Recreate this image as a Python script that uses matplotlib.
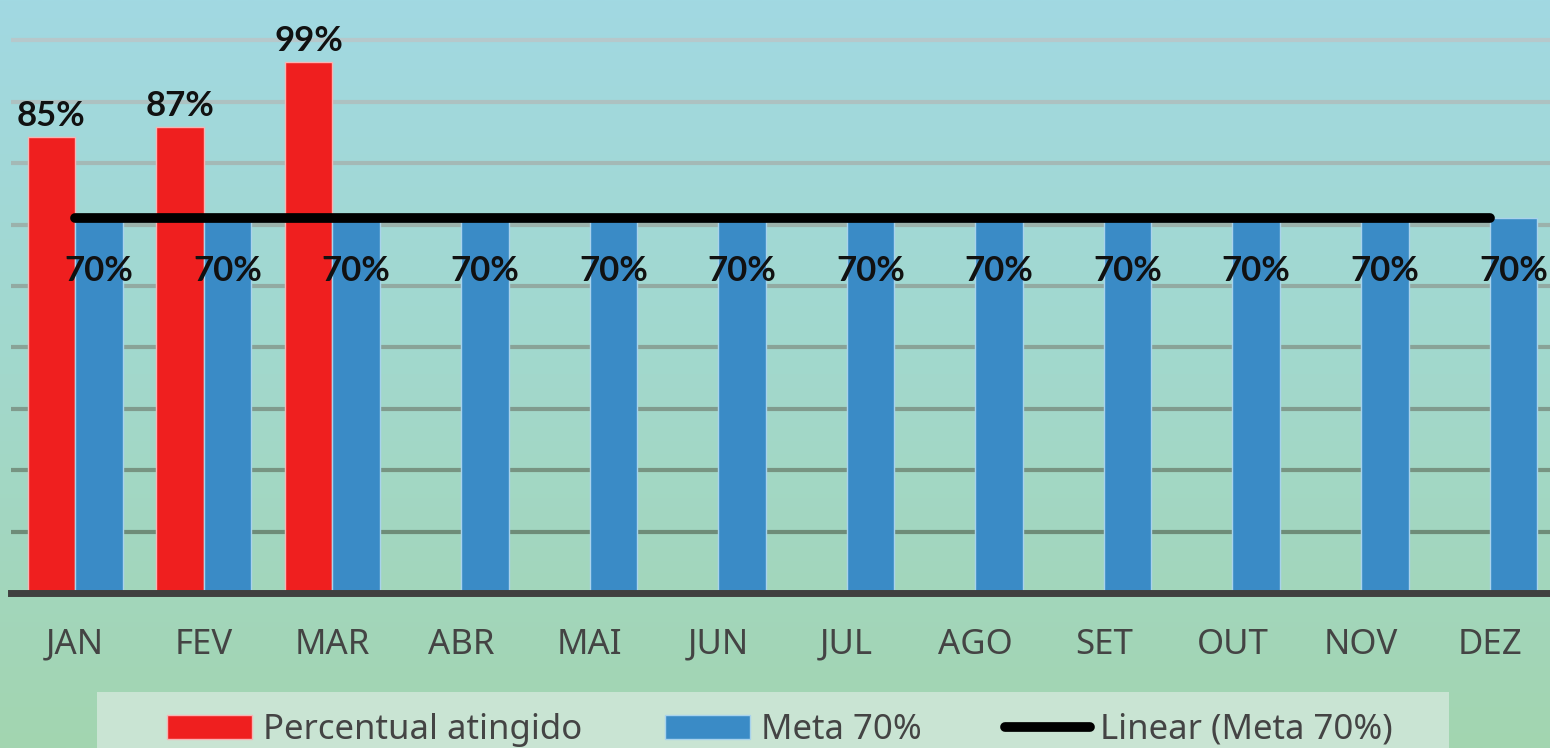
import numpy as np
import matplotlib.pyplot as plt
from matplotlib.patches import Patch, Rectangle
from matplotlib.lines import Line2D
from matplotlib.colors import LinearSegmentedColormap

# Data
meses = ['JAN', 'FEV', 'MAR', 'ABR', 'MAI', 'JUN', 'JUL', 'AGO', 'SET', 'OUT', 'NOV', 'DEZ']
percentual = [85, 87, 99]          # Percentual atingido (only first 3 months)
meta = [70] * 12                   # Meta 70%

plt.rcParams['font.family'] = ['Noto Sans', 'DejaVu Sans']

W, H = 1550, 748
fig = plt.figure(figsize=(W / 100, H / 100), dpi=100)

# gradient background (blue on top, green at bottom)
bg = fig.add_axes([0, 0, 1, 1], zorder=-10)
grad = LinearSegmentedColormap.from_list('bg', ['#a1d9e2', '#a2d8cc', '#a3d5b0'])
bg.imshow(np.linspace(0, 1, 256).reshape(-1, 1), aspect='auto', cmap=grad,
          extent=[0, 1, 0, 1])
bg.set_axis_off()

# plot area: baseline at y=593 px, left edge at x=11 px
px_per_pct = 5.36
ax = fig.add_axes([11 / W, 1 - 593 / H, (W - 11) / W, 593 / H])
ax.patch.set_alpha(0)
ax.set_ylim(0, 593 / px_per_pct)
ax.set_xlim(-0.5, 11.47)

x = np.arange(len(meses))
bw = 0.37

# gridlines (lighter toward the top)
grid_step = 61.4 / px_per_pct
grid_cols = LinearSegmentedColormap.from_list('g', ['#6e8c78', '#b6c8cb'])
for k in range(1, 10):
    ax.axhline(k * grid_step, color=grid_cols((k - 1) / 8), lw=3, zorder=0)

red = ax.bar(x[:len(percentual)] - bw / 2, percentual, bw, color='#ef1f1f',
             edgecolor='#f7b5b5', linewidth=1, zorder=2)
blue = ax.bar(x + bw / 2, meta, bw, color='#3a8bc6',
              edgecolor='#a9d3ec', linewidth=1, zorder=2)

# linear trend of meta
ax.plot(x, meta, color='black', lw=7, solid_capstyle='round', zorder=4)

# baseline
ax.axhline(0, color='#404040', lw=5, zorder=5, clip_on=False)

lbl_font = dict(family=['Lato', 'DejaVu Sans'], fontsize=25, fontweight='bold', color='#111111')
for xi, v in zip(x, percentual):
    ax.annotate(f'{v}%', (xi - bw / 2, v), xytext=(0, 8), textcoords='offset points',
                ha='center', va='baseline', **lbl_font)
for xi, v in zip(x, meta):
    ax.annotate(f'{v}%', (xi + bw / 2, v), xytext=(0, -38), textcoords='offset points',
                ha='center', va='center', zorder=6, **lbl_font)

ax.set_xticks(x)
ax.set_xticklabels(meses, fontsize=25, color='#444444')
ax.tick_params(axis='x', length=0, pad=25)
ax.set_yticks([])
for s in ax.spines.values():
    s.set_visible(False)

# legend box
fig.patches.append(Rectangle((97 / W, 0), (1449 - 97) / W, (H - 692) / H,
                             transform=fig.transFigure, facecolor='#c9e4d3',
                             edgecolor='none', zorder=1))
handles = [Patch(facecolor='#ef1f1f', edgecolor='#f7b5b5'),
           Patch(facecolor='#3a8bc6', edgecolor='#a9d3ec'),
           Line2D([0], [0], color='black', lw=7, solid_capstyle='round')]
labels = ['Percentual atingido', 'Meta 70%', 'Linear (Meta 70%)']
leg = fig.legend(handles, labels, loc='center', bbox_to_anchor=(780 / W, 1 - 730 / H),
                 ncol=3, frameon=False, fontsize=25, handlelength=2.45, handleheight=0.7,
                 handletextpad=0.3, columnspacing=2.4, labelcolor='#444444')

fig.savefig('out.png', dpi=100)
